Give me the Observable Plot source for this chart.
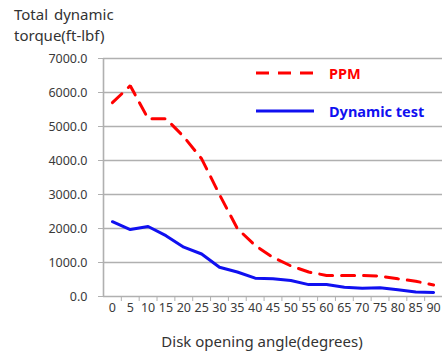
<!DOCTYPE html>
<html><head><meta charset="utf-8">
<script src="https://cdn.jsdelivr.net/npm/d3@7"></script>
<script src="https://cdn.jsdelivr.net/npm/@observablehq/plot@0.6"></script>
<style>
body{margin:0;background:#fff;font-family:"Noto Sans",sans-serif;}
#wrap{position:relative;width:442px;height:352px;}
#title{position:absolute;left:14px;top:4px;font-size:15px;line-height:21px;color:#333;word-spacing:2px;}
.leg{position:absolute;left:256px;font-size:14.5px;font-weight:bold;display:flex;align-items:center;}
.leg svg{margin-right:15px;}
</style></head><body>
<div id="wrap">
<div id="chart"></div>
<div id="title">Total dynamic<br>torque(ft-lbf)</div>
<div id="legend"></div>
</div>
<script>
const angles = [0,5,10,15,20,25,30,35,40,45,50,55,60,65,70,75,80,85,90];
const ppm = [5700,6200,5230,5230,4700,4050,3000,2000,1500,1150,900,720,620,620,620,600,520,450,340];
const dynamicTest = [2200,1970,2060,1790,1450,1250,860,720,540,520,470,350,350,270,240,260,200,130,120];
const yTicks = [0,1000,2000,3000,4000,5000,6000,7000];
const seriesNames = ["PPM","Dynamic test"];
const seriesColors = ["#ff0000","#1010f0"];

const step = angles[1]-angles[0];
const boundaries = angles.map(a => a - step/2).concat([angles[angles.length-1] + step/2]);
const ppmData = angles.map((a,i)=>({x:a,y:ppm[i]}));
const dynData = angles.map((a,i)=>({x:a,y:dynamicTest[i]}));

const chart = Plot.plot({
  width: 442, height: 352,
  marginTop: 58, marginBottom: 56, marginLeft: 103, marginRight: 0,
  style: {fontFamily: '"Noto Sans", sans-serif', fontSize: "12px", color: "#3a3a3a", background: "#fff"},
  x: {type: "linear", domain: [boundaries[0], boundaries[boundaries.length-1]]},
  y: {domain: [0, 7000]},
  marks: [
    Plot.gridY(yTicks.slice(1), {stroke: "#b0b0b0", strokeOpacity: 1, strokeWidth: 1.6}),
    Plot.ruleX([boundaries[0]], {stroke: "#b0b0b0", strokeWidth: 1.6}),
    Plot.ruleY([0], {stroke: "#b0b0b0", strokeWidth: 1.6}),
    Plot.axisY(yTicks, {tickSize: 5, tickPadding: 11, stroke: "#b0b0b0", tickFormat: d3.format(".1f"), label: null, fill: "#3a3a3a", fontSize: 12.5}),
    Plot.axisX(boundaries.slice(1), {tickSize: 5, stroke: "#b0b0b0", tickFormat: () => "", label: null}),
    Plot.axisX(angles, {tickSize: 0, tickPadding: 7, tickFormat: d => String(d), label: null, fill: "#3a3a3a", fontSize: 12.5}),
    Plot.text(["Disk opening angle(degrees)"], {frameAnchor: "bottom", dy: 46, dx: -11, fontSize: 15, fill: "#333", lineAnchor: "middle"}),
    Plot.line(ppmData, {x: "x", y: "y", stroke: seriesColors[0], strokeWidth: 3, strokeDasharray: "13,9", strokeLinejoin: "miter"}),
    Plot.line(dynData, {x: "x", y: "y", stroke: seriesColors[1], strokeWidth: 3})
  ]
});
document.getElementById("chart").appendChild(chart);

const legend = document.getElementById("legend");
const legTops = [62, 100];
seriesNames.forEach((name, i) => {
  const d = document.createElement("div");
  d.className = "leg";
  d.style.top = legTops[i] + "px";
  d.style.color = seriesColors[i];
  d.innerHTML = `<svg width="58" height="22"><line x1="0" x2="58" y1="11" y2="11" stroke="${seriesColors[i]}" stroke-width="3" ${i===0?'stroke-dasharray="13,9"':''}/></svg><span>${name}</span>`;
  legend.appendChild(d);
});
</script>
</body></html>
